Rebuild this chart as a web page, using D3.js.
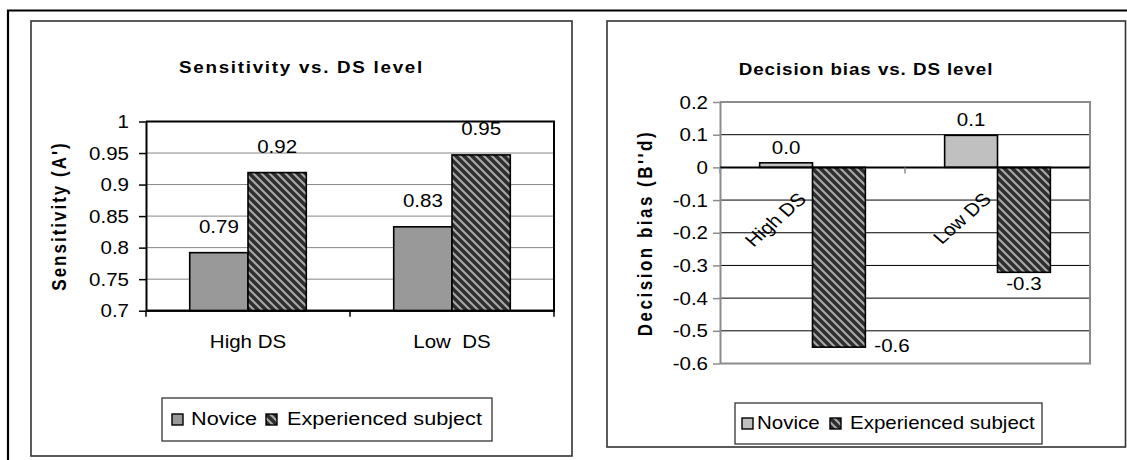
<!DOCTYPE html>
<html>
<head>
<meta charset="utf-8">
<script src="https://cdn.jsdelivr.net/npm/d3@7"></script>
<style>
  html, body { margin: 0; padding: 0; background: #fff; }
  svg { display: block; font-family: "Liberation Sans", Arial, sans-serif; }
  text { white-space: pre; fill: #000; }
</style>
</head>
<body>
<svg id="chart" width="1127" height="460"></svg>
<script>
// categories and series
const categoriesLeft = ["High DS", "Low  DS"];
const categoriesRight = ["High DS", "Low DS"];
const seriesNames = ["Novice", "Experienced subject"];

// sensitivity (A') values
const sensNovice = [0.792, 0.833];
const sensExperienced = [0.919, 0.947];
const sensTicks = [0.7, 0.75, 0.8, 0.85, 0.9, 0.95, 1];

// decision bias (B''d) values
const biasNovice = [0.014, 0.098];
const biasExperienced = [-0.55, -0.321];
const biasTicks = [0.2, 0.1, 0, -0.1, -0.2, -0.3, -0.4, -0.5, -0.6];

const svg = d3.select("#chart");
const SX = 1.14; // the original picture is a little stretched sideways

// hatch fill for the experienced bars
const hatch = svg.append("defs").append("pattern")
  .attr("id", "hatch")
  .attr("patternUnits", "userSpaceOnUse")
  .attr("width", 8)
  .attr("height", 8);
hatch.append("rect").attr("width", 8).attr("height", 8).attr("fill", "#2e2e2e");
hatch.append("path")
  .attr("d", "M-2,-2L10,10M-2,6L2,10M6,-2L10,2")
  .attr("stroke", "#a8a8a8")
  .attr("stroke-width", 2.1);

// outer frame (only top and left edges show)
svg.append("path")
  .attr("d", "M8,460V10.5H1127")
  .attr("fill", "none")
  .attr("stroke", "#000")
  .attr("stroke-width", 2.2);

function label(g, x, y, str, o) {
  return g.append("text")
    .attr("transform", `translate(${x},${y}) scale(${SX},1)` + (o.rotate ? ` rotate(${o.rotate})` : ""))
    .attr("text-anchor", o.anchor || "middle")
    .attr("font-size", o.size || 18)
    .attr("font-weight", o.bold ? "bold" : null)
    .attr("letter-spacing", o.spacing || null)
    .text(str);
}

function drawPanel(p) {
  const g = svg.append("g");

  g.append("rect")
    .attr("x", p.box[0])
    .attr("y", p.box[1])
    .attr("width", p.box[2] - p.box[0])
    .attr("height", p.box[3] - p.box[1])
    .attr("fill", "#fff")
    .attr("stroke", "#333")
    .attr("stroke-width", 1.6);

  const x = d3.scaleBand()
    .domain(p.categories)
    .range([p.plot.left, p.plot.right])
    .paddingInner(1.5 / 3.5)
    .paddingOuter(0.75 / 3.5);
  const xs = d3.scaleBand().domain(seriesNames).range([0, x.bandwidth()]);
  const y = d3.scaleLinear().domain(p.domain).range([p.plot.bottom, p.plot.top]);

  // grid lines
  g.append("g")
    .selectAll("line")
    .data(p.ticks.filter((t) => t !== p.domain[0] && t !== p.domain[1] && t !== p.base))
    .join("line")
    .attr("x1", p.plot.left)
    .attr("x2", p.plot.right)
    .attr("y1", (d) => y(d))
    .attr("y2", (d) => y(d))
    .attr("stroke", p.gridColor)
    .attr("stroke-width", 1);

  // plot frame (top, right, bottom edges)
  g.append("path")
    .attr("d", `M${p.plot.left},${y(p.domain[1])}H${p.plot.right}V${y(p.domain[0])}H${p.plot.left}`)
    .attr("fill", "none")
    .attr("stroke", p.frameColor)
    .attr("stroke-width", 2);

  // y axis
  const yAxis = g.append("g")
    .attr("transform", `translate(${p.plot.left},0)`)
    .call(d3.axisLeft(y).tickValues(p.ticks).tickSize(7).tickSizeOuter(0).tickFormat(p.tickFormat));
  yAxis.select(".domain").attr("stroke", p.axisColor).attr("stroke-width", 2);
  yAxis.selectAll(".tick line").attr("stroke", p.axisColor).attr("stroke-width", 1.5);
  yAxis.selectAll(".tick text")
    .attr("x", 0)
    .attr("dy", "0.34em")
    .attr("transform", `translate(${-p.tickGap},0) scale(${SX},1)`)
    .attr("font-family", null)
    .attr("font-size", 18)
    .attr("fill", "#000");

  // bars
  const rows = p.categories.flatMap((c, i) =>
    seriesNames.map((s, j) => ({ cat: c, series: s, idx: j, value: p.values[j][i] }))
  );
  g.append("g")
    .selectAll("rect")
    .data(rows)
    .join("rect")
    .attr("x", (d) => x(d.cat) + xs(d.series))
    .attr("y", (d) => Math.min(y(d.value), y(p.base)))
    .attr("width", xs.bandwidth())
    .attr("height", (d) => Math.abs(y(d.value) - y(p.base)))
    .attr("fill", (d) => (d.idx === 0 ? p.noviceFill : "url(#hatch)"))
    .attr("stroke", "#000")
    .attr("stroke-width", 1.6);

  // category axis with ticks at the category boundaries
  const baseY = y(p.base);
  g.append("line")
    .attr("x1", p.plot.left)
    .attr("x2", p.plot.right)
    .attr("y1", baseY)
    .attr("y2", baseY)
    .attr("stroke", "#000")
    .attr("stroke-width", 2);
  g.append("g")
    .selectAll("line")
    .data(d3.range(p.categories.length + 1))
    .join("line")
    .attr("x1", (i) => p.plot.left + i * x.step())
    .attr("x2", (i) => p.plot.left + i * x.step())
    .attr("y1", baseY)
    .attr("y2", baseY + 6)
    .attr("stroke", p.axisColor)
    .attr("stroke-width", 1.5);

  // data labels
  rows.forEach((d) => {
    const bx = x(d.cat) + xs(d.series);
    const pos = p.labelPos(d, bx, xs.bandwidth(), y);
    label(g, pos.x, pos.y, p.valueFormat(d.value), { anchor: pos.anchor });
  });

  // category labels
  p.categories.forEach((c) => {
    const cx = x(c) + x.bandwidth() / 2;
    if (p.rotateCats) {
      label(g, cx + p.catDx, baseY + p.catDy, c, { anchor: "end", rotate: -45 });
    } else {
      label(g, cx, p.catY, c, {});
    }
  });

  // titles
  label(g, p.title.x, p.title.y, p.title.text, { bold: true, size: 16.5, spacing: p.title.spacing });
  label(g, p.yTitle.x, p.yTitle.y, p.yTitle.text, { bold: true, size: 17, rotate: -90, spacing: p.yTitle.spacing });

  // legend
  const L = p.legend;
  g.append("rect")
    .attr("x", L.box[0])
    .attr("y", L.box[1])
    .attr("width", L.box[2] - L.box[0])
    .attr("height", L.box[3] - L.box[1])
    .attr("fill", "#fff")
    .attr("stroke", "#333")
    .attr("stroke-width", 1.3);
  seriesNames.forEach((s, j) => {
    g.append("rect")
      .attr("x", L.swatchX[j])
      .attr("y", L.baseline - 11)
      .attr("width", 11)
      .attr("height", 11)
      .attr("fill", j === 0 ? p.noviceFill : "url(#hatch)")
      .attr("stroke", "#000")
      .attr("stroke-width", 1.4);
    label(g, L.textX[j], L.baseline, s, { anchor: "start", size: L.size });
  });
}

drawPanel({
  box: [31, 21, 572, 456],
  plot: { left: 146, right: 554, top: 121.5, bottom: 310.7 },
  categories: categoriesLeft,
  values: [sensNovice, sensExperienced],
  domain: [0.7, 1],
  base: 0.7,
  ticks: sensTicks,
  tickFormat: (d) => String(+d.toFixed(2)),
  valueFormat: (v) => v.toFixed(2),
  tickGap: 17,
  gridColor: "#858585",
  frameColor: "#000",
  axisColor: "#000",
  noviceFill: "#999999",
  labelPos: (d, bx, bw, y) => ({ x: bx + bw / 2, y: y(d.value) - 20, anchor: "middle" }),
  rotateCats: false,
  catY: 348,
  title: { text: "Sensitivity vs. DS level", x: 301.5, y: 73, spacing: 1.5 },
  yTitle: { text: "Sensitivity (A')", x: 66, y: 216, spacing: 2 },
  legend: { box: [162, 398, 492, 441], swatchX: [172, 266], textX: [191, 287], baseline: 425, size: 19 }
});

drawPanel({
  box: [607, 21, 1125.5, 447],
  plot: { left: 720, right: 1090, top: 102, bottom: 363.5 },
  categories: categoriesRight,
  values: [biasNovice, biasExperienced],
  domain: [-0.6, 0.2],
  base: 0,
  ticks: biasTicks,
  tickFormat: (d) => (d === 0 ? "0" : d.toFixed(1)),
  valueFormat: (v) => v.toFixed(1),
  tickGap: 12,
  gridColor: "#000",
  frameColor: "#8c8c8c",
  axisColor: "#8c8c8c",
  noviceFill: "#c0c0c0",
  labelPos: (d, bx, bw, y) => {
    if (d.value >= 0) return { x: bx + bw / 2, y: y(d.value) - 9, anchor: "middle" };
    const below = y(d.value) + 18;
    if (below > y(-0.6)) return { x: bx + bw + 9, y: y(d.value) + 4.5, anchor: "start" };
    return { x: bx + bw / 2, y: below, anchor: "middle" };
  },
  rotateCats: true,
  catDx: -5,
  catDy: 33,
  title: { text: "Decision bias vs. DS level", x: 866, y: 75, spacing: 0.8 },
  yTitle: { text: "Decision bias (B''d)", x: 652, y: 233, spacing: 2.5 },
  legend: { box: [735, 403, 1042, 444], swatchX: [742, 830], textX: [757, 850], baseline: 429, size: 18 }
});
</script>
</body>
</html>
